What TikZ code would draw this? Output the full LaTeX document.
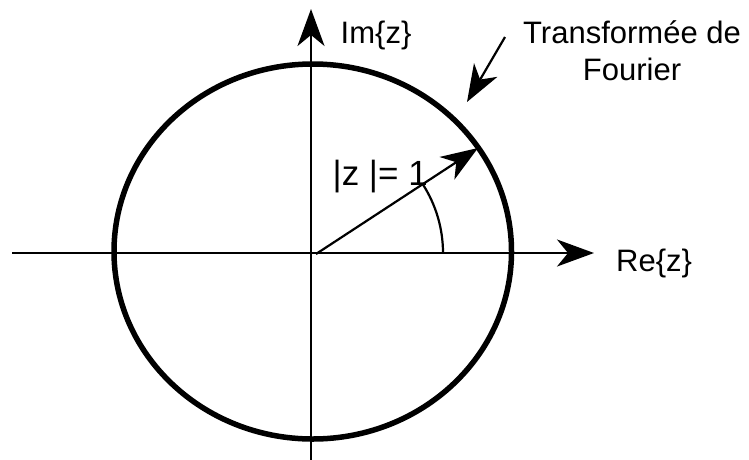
\documentclass[tikz,border=0pt]{standalone}
\usepackage{fontspec}
\setmainfont{Liberation Sans}
\usetikzlibrary{arrows.meta}
\begin{document}
\begin{tikzpicture}[x=1pt,y=-1pt,
  ax/.style={line width=2.2pt,-{Stealth[length=37pt,width=27pt,inset=11pt]}},
  lbl/.style={inner sep=0pt,font=\fontsize{31}{37}\selectfont}]
\useasboundingbox (0,0) rectangle (749,459);
% circle
\draw[line width=5.5pt] (312.75,251.5) ellipse [x radius=198.75, y radius=187.5];
% axes
\coordinate (xl) at (12,253);
\coordinate (xr) at (594,253);
\coordinate (yb) at (311,462);
\coordinate (yt) at (311,9);
\draw[ax] (xl) -- (xr);
\draw[ax] (yb) -- (yt);
% radius vector
\coordinate (O) at (316,254);
\coordinate (P) at (478,148);
\draw[ax] (O) -- (P);
% angle arc
\draw[line width=2.2pt] (443,253) arc[start angle=0,end angle=-33,radius=127];
% labels
\node[lbl,anchor=base west] (im) at (340.5,43) {Im\{z\}};
\node[lbl,anchor=base west] (re) at (616,271) {Re\{z\}};
\node[lbl,anchor=base west,font=\fontsize{35}{40}\selectfont] (mod) at (332.5,185) {|z |= 1};
\node[lbl,align=center,anchor=base] (tf) at (632,80) {Transformée de\\Fourier};
\coordinate (tfs) at (505,37);
\coordinate (tfe) at (467,102);
\draw[ax] (tfs) -- (tfe);
\end{tikzpicture}
\end{document}
